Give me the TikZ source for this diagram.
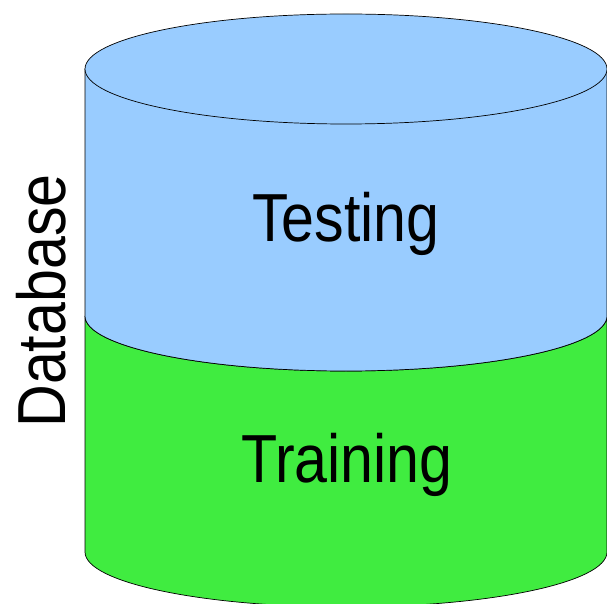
\documentclass[tikz,border=0pt]{standalone}
\usepackage{fontspec}
\setmainfont{Liberation Sans}[FakeStretch=0.87]
\definecolor{testblue}{RGB}{153,204,255}
\definecolor{traingreen}{RGB}{64,236,64}
\begin{document}
\begin{tikzpicture}[x=1pt,y=1pt,
    part/.style={draw=black,line width=0.7pt},
    label/.style={font=\fontsize{68}{68}\selectfont,anchor=base,inner sep=0pt}]
      \useasboundingbox (0,0) rectangle (607,603);
      \filldraw[part,fill=traingreen]
        (85,287) -- (85,51)
        arc[start angle=180,end angle=360,x radius=261,y radius=55]
        -- (607,287)
        arc[start angle=360,end angle=180,x radius=261,y radius=55] -- cycle;
      \filldraw[part,fill=testblue]
        (85,534) -- (85,287)
        arc[start angle=180,end angle=360,x radius=261,y radius=55]
        -- (607,534) -- cycle;
      \filldraw[part,fill=testblue] (346,534) ellipse[x radius=261,y radius=55];
      \draw
        (346,361) node[label] (testing){Testing}
        (347,121) node[label] (training){Training}
        (65,302) node[label,rotate=90] (database){Database};
    \end{tikzpicture}
\end{document}
